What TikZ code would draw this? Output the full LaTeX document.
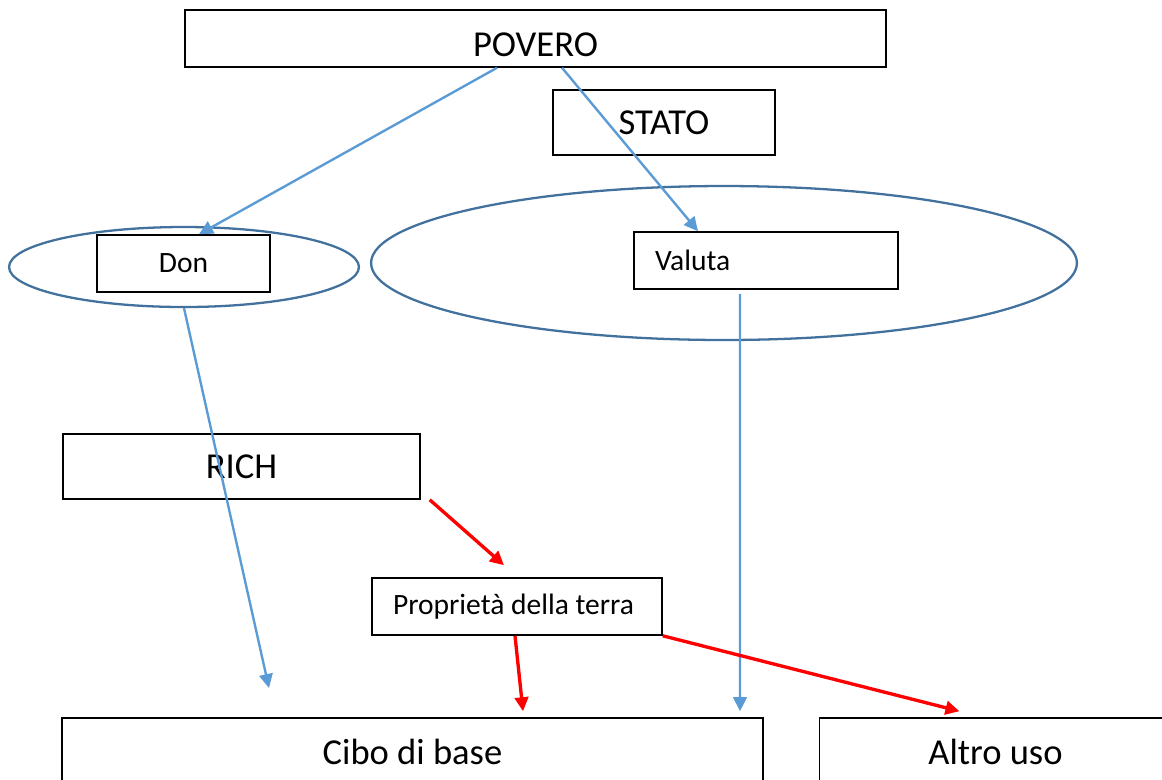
\documentclass[tikz,border=0pt]{standalone}
\usepackage{fontspec}
\setmainfont{Carlito}
\usetikzlibrary{arrows.meta,positioning,calc,shapes.geometric}

\definecolor{linkblue}{HTML}{5B9BD5}
\definecolor{ringblue}{HTML}{41719C}

\begin{document}
\begin{tikzpicture}[x=0.02cm,y=-0.02cm,>={Triangle[length=0.28cm,width=0.27cm]},
    main box/.style={draw=black,line width=0.9pt,fill=white,inner sep=0pt,
        font=\fontsize{20.8}{25}\selectfont},
    small box/.style={draw=black,line width=0.9pt,fill=white,minimum height=1.14cm,
        font=\fontsize{16.8}{20}\selectfont},
    ring/.style={ellipse,draw=ringblue,line width=1.3pt,inner sep=0pt},
    blue arrow/.style={->,color=linkblue,line width=1.35pt},
    red arrow/.style={->,color=red,line width=1.9pt}]

    \clip (0,0) rectangle (1162,779);

    % the two rings
    \node[ring,minimum width=7cm,minimum height=1.6cm] (ldon) at (184,267) {};
    \node[ring,minimum width=14.12cm,minimum height=3.08cm] (lvaluta) at (724,263) {};

    \node[main box,minimum width=14.02cm,minimum height=1.14cm,
        text height=0.71cm,text depth=0pt] (povero) at (535.5,38.5) {POVERO};
    \node[main box,minimum width=4.44cm,minimum height=1.3cm] (stato) at (664,122.5) {STATO};

    \node[small box,minimum width=3.46cm] (don) at (183.5,263.5) {Don};
    \node[small box,align=flush left,text width=4.44cm,inner xsep=0.42cm] (valuta) at (766,260.5) {Valuta};

    \node[main box,minimum width=7.14cm,minimum height=1.3cm] (rich) at (241.5,466.5) {RICH};
    \node[small box,align=flush left,text width=4.96cm,inner xsep=0.42cm] (prop) at (517,606.5) {Proprietà della terra};

    \node[main box,minimum width=14.02cm,minimum height=1.36cm] (cibo) at (412.5,752) {Cibo di base};
    \node[main box,minimum width=7.04cm,minimum height=1.36cm] (altro) [right=1.1cm of cibo] {Altro uso};

    \coordinate (donend) at (269,688);

    \draw[blue arrow] ($(povero.south)+(-38.5,0)$) -- ($(don.north)+(15.5,0)$);
    \draw[blue arrow] ($(povero.south)+(26.5,0)$) -- ($(valuta.north)+(-68,0)$);
    \draw[blue arrow] (ldon.south) -- (donend);
    \draw[blue arrow] ($(valuta.south)+(-26,4)$) -- ($(cibo.north)+(327.5,-6)$);

    \draw[red arrow] ($(rich.south east)+(9,0)$) -- ($(prop.north)+(-13,-12)$);
    \draw[red arrow] ($(prop.south)+(-2,0)$) -- ($(cibo.north)+(110.5,-6)$);
    \draw[red arrow] (prop.south east) -- ($(altro.north)+(-36,-6)$);
\end{tikzpicture}
\end{document}
